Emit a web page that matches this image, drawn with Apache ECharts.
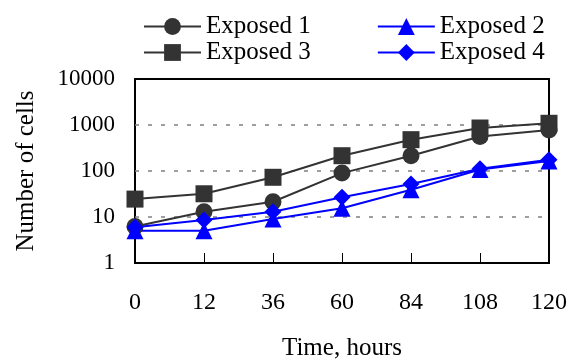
<!DOCTYPE html>
<html>
<head>
<meta charset="utf-8">
<script src="https://cdn.jsdelivr.net/npm/echarts@6/dist/echarts.min.js"></script>
<style>
  html, body { margin: 0; padding: 0; background: #fff; }
  #chart { width: 585px; height: 363px; }
</style>
</head>
<body>
<div id="chart"></div>
<script>
const hours = ['0', '12', '36', '60', '84', '108', '120']
const exposed1 = [6.2, 13, 21.5, 90, 215, 560, 780]
const exposed2 = [5, 5, 9, 15.5, 39, 108, 165]
const exposed3 = [24.5, 32, 73, 215, 480, 860, 1090]
const exposed4 = [6, 8.6, 13, 27, 52, 112, 175]
const yTicks = [1, 10, 100, 1000, 10000]

const FONT = '"Liberation Serif", "DejaVu Serif", serif'
const GRAY = '#333333'
const BLUE = '#0000ff'

const chart = echarts.init(document.getElementById('chart'))

const makeSeries = (name, data, symbol, color) => ({
  name,
  type: 'line',
  data,
  symbol,
  symbolSize: 17,
  showSymbol: true,
  lineStyle: { color, width: 2 },
  itemStyle: { color, borderWidth: 0 },
  emphasis: { disabled: true },
  animation: false,
})

const legendBase = {
  left: 138,
  itemWidth: 57,
  itemHeight: 21,
  itemGap: 66,
  textStyle: { fontFamily: FONT, fontSize: 25, color: '#000' },
  selectedMode: false,
}

chart.setOption({
  backgroundColor: '#fff',
  animation: false,
  legend: [
    { ...legendBase, top: 9, data: ['Exposed 1', 'Exposed 2'] },
    { ...legendBase, top: 35, data: ['Exposed 3', 'Exposed 4'] },
  ],
  grid: {
    left: 135,
    right: 36,
    top: 79,
    bottom: 100,
    outerBoundsMode: 'none',
    show: true,
    borderColor: '#000',
    borderWidth: 2,
  },
  xAxis: {
    type: 'category',
    data: hours,
    boundaryGap: false,
    name: 'Time, hours',
    nameLocation: 'middle',
    nameGap: 73,
    nameTextStyle: { fontFamily: FONT, fontSize: 25, color: '#000' },
    axisLine: { lineStyle: { color: '#000', width: 2 } },
    axisTick: { inside: true, length: 10, lineStyle: { color: '#000', width: 1 } },
    axisLabel: { fontFamily: FONT, fontSize: 24, color: '#000', margin: 28 },
    splitLine: { show: false },
  },
  yAxis: {
    type: 'log',
    logBase: 10,
    min: yTicks[0],
    max: yTicks[yTicks.length - 1],
    name: 'Number of cells',
    nameLocation: 'middle',
    nameGap: 96,
    nameTextStyle: { fontFamily: FONT, fontSize: 25, color: '#000' },
    axisLine: { lineStyle: { color: '#000', width: 2 } },
    axisTick: { inside: true, length: 5, lineStyle: { color: '#000', width: 1 } },
    axisLabel: {
      fontFamily: FONT,
      fontSize: 23,
      color: '#000',
      margin: 20,
      formatter: (v) => (yTicks.includes(Math.round(v)) ? String(Math.round(v)) : ''),
    },
    splitLine: {
      show: true,
      showMinLine: false,
      showMaxLine: false,
      lineStyle: { color: '#808080', type: [4, 9], width: 1.5 },
    },
    minorTick: { show: false },
  },
  series: [
    makeSeries('Exposed 1', exposed1, 'circle', GRAY),
    makeSeries('Exposed 2', exposed2, 'triangle', BLUE),
    makeSeries('Exposed 3', exposed3, 'rect', GRAY),
    makeSeries('Exposed 4', exposed4, 'diamond', BLUE),
  ],
})

window.addEventListener('resize', () => {
  chart.resize()
})
</script>
</body>
</html>
